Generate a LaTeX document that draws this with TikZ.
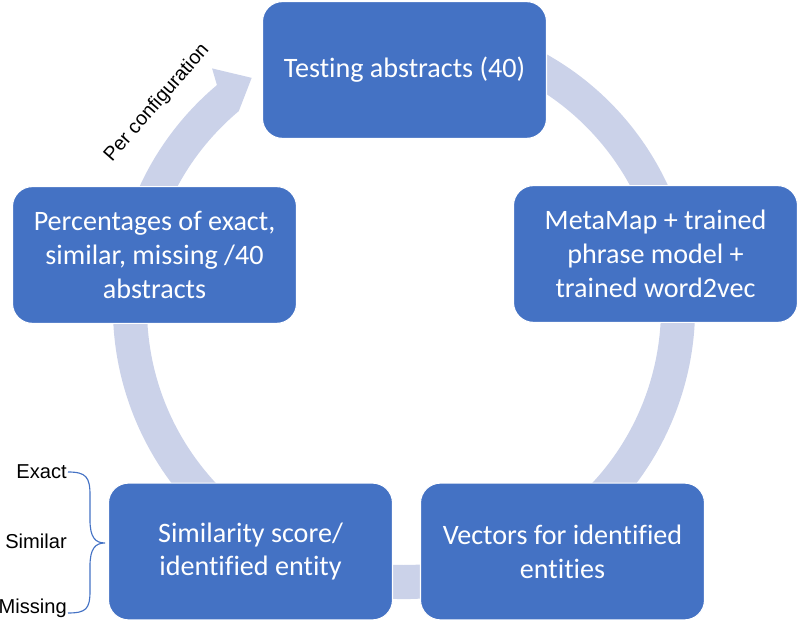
\documentclass[tikz,border=0pt]{standalone}
\usepackage{fontspec}
\setmainfont[Ligatures=NoCommon]{Carlito}
\newfontfamily\labelfont{Liberation Sans}
\definecolor{boxblue}{RGB}{68,114,196}
\definecolor{ringblue}{RGB}{203,210,233}

\begin{document}
\begin{tikzpicture}[
  x=0.025cm, y=0.025cm,
  stage/.style={draw=white, line width=0.8pt, fill=boxblue, rounded corners=0.5cm, align=center, text=white, minimum width=7.1cm, minimum height=3.42cm, font=\fontsize{20}{24}\selectfont},
  side/.style={font=\labelfont\fontsize{14.3}{17}\selectfont, anchor=east, inner sep=0pt},
  ring/.style={fill=ringblue},
  brace/.style={draw=boxblue, line width=0.8pt}
]
\useasboundingbox (0,0) rectangle (800,623);

% cycle ring, ends in the arrow head at the top
\fill[ring, shift={(404,315)}] (70:291) arc[start angle=70, end angle=-230, radius=291]
  -- (128.7:307) -- (123.5:276) -- (130:257)
  arc[start angle=-230, end angle=70, radius=257] -- cycle;

\node[stage] (test) at (404.5,553) {Testing abstracts (40)};
\node[stage] (meta) at (655.5,369) {MetaMap + trained\\phrase model +\\trained word2vec};
\node[stage] (vec) at (562.5,71.5) {Vectors for identified\\entities};
\node[stage] (sim) at (250.5,71.5) {Similarity score/\\identified entity};
\node[stage] (perc) at (154.5,368) {Percentages of exact,\\similar, missing /40\\abstracts};

\node[font=\labelfont\fontsize{14}{17}\selectfont, rotate=49] (perconf) at (157,520) {Per configuration};

% outcome classes
\node[side] (exact) at (67,151) {Exact};
\node[side] (similar) at (67,82) {Similar};
\node[side] (missing) at (67,15) {Missing};
\draw[brace] (68,151) .. controls (86,151) and (90,146) .. (90,128) -- (90,103)
  .. controls (90,86) and (95,80) .. (105,80)
  .. controls (95,80) and (90,74) .. (90,57) -- (90,32)
  .. controls (90,14) and (86,10) .. (68,10);

\end{tikzpicture}
\end{document}
